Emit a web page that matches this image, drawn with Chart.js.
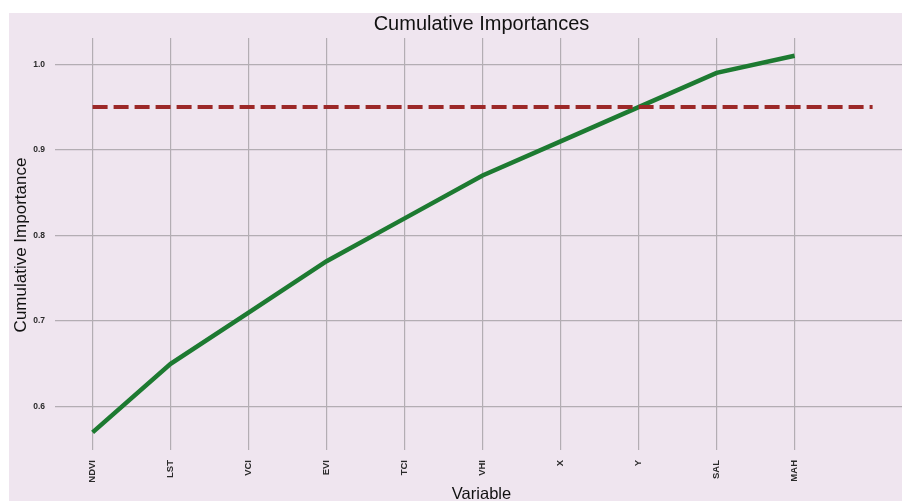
<!DOCTYPE html>
<html>
<head>
<meta charset="utf-8">
<script src="https://cdn.jsdelivr.net/npm/chart.js@4/dist/chart.umd.min.js"></script>
<style>
  html, body { margin: 0; padding: 0; background: #ffffff; }
  #wrap { width: 902px; height: 501px; position: relative; }
</style>
</head>
<body>
<div id="wrap"><canvas id="c" width="902" height="501"></canvas></div>
<script>
const categories = ["NDVI", "LST", "VCI", "EVI", "TCI", "VHI", "X", "Y", "SAL", "MAH"];
const cumulativeValues = [0.57, 0.65, 0.71, 0.77, 0.82, 0.87, 0.91, 0.95, 0.99, 1.01];
const thresholdValue = 0.95;
const thresholdRange = [0, 10];
const yTickValues = [0.6, 0.7, 0.8, 0.9, 1.0];
const yTickLabels = ["0.6", "0.7", "0.8", "0.9", "1.0"];
const chartTitle = "Cumulative Importances";
const xAxisTitle = "Variable";
const yAxisTitle = "Cumulative Importance";

const mainPoints = categories.map((c, i) => ({ x: i, y: cumulativeValues[i] }));
const thresholdPoints = thresholdRange.map(x => ({ x: x, y: thresholdValue }));

const decorPlugin = {
  id: 'decor',
  beforeDraw(chart) {
    const ctx = chart.ctx;
    ctx.save();
    ctx.fillStyle = '#ffffff';
    ctx.fillRect(0, 0, chart.width, chart.height);
    ctx.fillStyle = '#efe5ef';
    ctx.fillRect(9, 13, chart.width - 9, chart.height - 13);
    ctx.restore();
  },
  afterDraw(chart) {
    const ctx = chart.ctx;
    const area = chart.chartArea;
    const cx = (area.left + area.right) / 2 + 3;
    ctx.save();
    ctx.fillStyle = '#111111';
    ctx.textAlign = 'center';
    ctx.textBaseline = 'alphabetic';
    ctx.font = '20px "Liberation Sans", Arial, sans-serif';
    ctx.fillText(chartTitle, cx, 30);
    ctx.font = '16.5px "Liberation Sans", Arial, sans-serif';
    ctx.fillText(xAxisTitle, cx, 499);
    ctx.translate(25.5, (area.top + area.bottom) / 2 + 1);
    ctx.rotate(-Math.PI / 2);
    ctx.font = '17px "Liberation Sans", Arial, sans-serif';
    ctx.fillText(yAxisTitle, 0, 0);
    ctx.restore();
  }
};

new Chart(document.getElementById('c'), {
  type: 'line',
  data: {
    datasets: [
      {
        data: thresholdPoints,
        borderColor: '#9c2828',
        borderWidth: 4,
        borderDash: [15, 6],
        pointRadius: 0,
        fill: false,
        tension: 0
      },
      {
        data: mainPoints,
        borderColor: '#1d7a31',
        borderWidth: 4.5,
        pointRadius: 0,
        fill: false,
        tension: 0
      }
    ]
  },
  options: {
    responsive: false,
    animation: false,
    events: [],
    layout: { padding: { left: 0, right: 0, top: 38, bottom: 0 } },
    plugins: {
      legend: { display: false },
      title: { display: false },
      tooltip: { enabled: false }
    },
    scales: {
      x: {
        type: 'linear',
        min: -0.482,
        max: 10.377,
        afterBuildTicks(scale) {
          scale.ticks = categories.map((c, i) => ({ value: i }));
        },
        afterFit(scale) { scale.height = 51; },
        grid: { color: '#b3adb3', lineWidth: 1.2, drawTicks: false },
        border: { display: false },
        ticks: {
          autoSkip: false,
          minRotation: 90,
          maxRotation: 90,
          padding: 10,
          color: '#2a2a2a',
          font: { family: '"Liberation Sans", Arial, sans-serif', size: 9.5, weight: 'bold' },
          callback: (v) => categories[Math.round(v)] ?? ''
        }
      },
      y: {
        type: 'linear',
        min: 0.5494,
        max: 1.0307,
        afterBuildTicks(scale) {
          scale.ticks = yTickValues.map(v => ({ value: v }));
        },
        afterFit(scale) { scale.width = 55; },
        grid: { color: '#b3adb3', lineWidth: 1.2, drawTicks: false },
        border: { display: false },
        ticks: {
          padding: 10,
          color: '#2a2a2a',
          font: { family: '"Liberation Sans", Arial, sans-serif', size: 8.5, weight: 'bold' },
          callback: (v) => {
            const i = yTickValues.findIndex(t => Math.abs(t - v) < 1e-6);
            return i >= 0 ? yTickLabels[i] : '';
          }
        }
      }
    }
  },
  plugins: [decorPlugin]
});
</script>
</body>
</html>
